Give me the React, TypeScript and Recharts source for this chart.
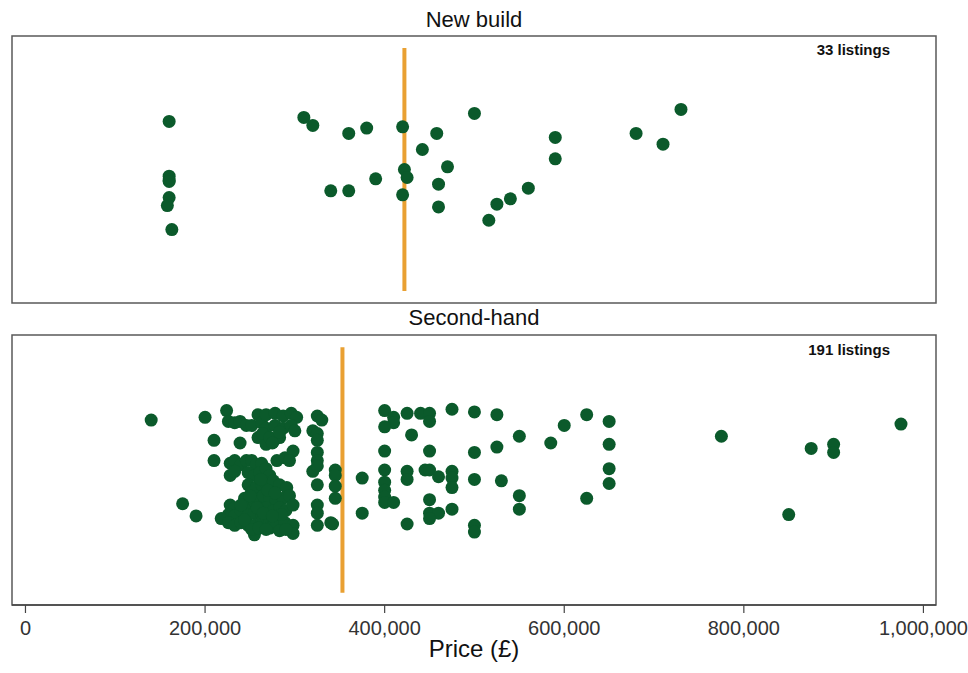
import React from "react";
import {
  ScatterChart,
  Scatter,
  XAxis,
  YAxis,
  ReferenceLine,
  ReferenceArea,
} from "recharts";

// prices in £ thousands, jitter is the vertical spread of the strip (-100..100)
const newBuildPriceK = [
  160, 160, 160, 160, 158, 163, 310, 320, 340, 360, 360, 380, 390, 420, 422,
  425, 420, 442, 458, 460, 460, 470, 500, 516, 525, 540, 560, 590, 590, 680,
  710, 730, 160,
];
const newBuildJitter = [
  36, -5, -8, -21, -27, -45, 39, 33, -16, 27, -16, 31, -7, 32, 0, -6, -19, 15,
  27, -11, -28, 2, 42, -38, -26, -22, -14, 24, 8, 27, 19, 45, -9,
];

const secondHandPriceK = [
  // left tail
  140, 200, 210, 210, 175, 190,
  // main cluster
  224, 226, 233, 239, 246, 252, 259, 263, 259, 239, 228, 233, 240, 246, 252,
  257, 263, 228, 233, 248, 255, 261, 248, 252, 257, 263, 244, 248, 255, 261,
  265, 228, 233, 226, 233, 240, 248, 255, 263, 218, 226, 233, 240, 248, 255,
  263, 255,
  268, 278, 287, 296, 302, 268, 278, 287, 296, 300, 268, 276, 283, 280, 289,
  298, 294, 268, 272, 269, 276, 283, 291, 265, 272, 279, 287, 294, 268, 276,
  283, 290, 298, 265, 272, 283, 272, 277, 289, 298, 283, 298,
  264, 272, 283, 275, 250, 258, 265, 270, 278, 285, 240, 244, 252, 260, 268,
  275, 290, 262,
  // column near the median
  325, 330, 320, 325, 325, 325, 325, 320, 325, 325, 325, 325, 325, 340, 345,
  345, 345, 345, 342,
  // right of the median
  375, 375, 400, 410, 410, 400, 425, 430, 440, 450, 450, 475, 500, 525, 400,
  450, 500, 525, 550, 585, 600, 625, 650, 650, 650, 650, 625, 400, 400, 400,
  400, 400, 410, 425, 425, 445, 450, 460, 475, 475, 475, 500, 530, 550, 550,
  450, 475, 450, 460, 450, 425, 500, 500,
  // high end
  775, 850, 875, 900, 900, 975,
];
const secondHandJitter = [
  37, 39, 22, 7, -25, -34,
  44, 36, 35, 36, 33, 33, 41, 35, 24, 20, 5, 7, 4, 7, 7,
  4, 5, -4, -1, -2, -4, -2, -11, -16, -13, -11, -21, -26, -23, -21,
  -26, -26, -28, -33, -34, -30, -33, -32, -33, -36, -39, -41, -39, -41, -41,
  -39, -48,
  41, 42, 40, 42, 39, 31, 33, 31, 33, 29, 19, 21, 24, 7, 9,
  14, 7, 1, -4, -11, -8, -11, -13, -19, -21, -23, -21, -19, -28, -30,
  -28, -30, -26, -36, -38, -37, -43, -41, -39, -41, -45, -47,
  27, 24, 28, 20, -19, -28, -32, -15, -17, -33, -26, -37, -44, -43, -44,
  -34, -44, -7,
  40, 37, 29, 27, 22, 13, 7, -1, 3, -11, -26, -32, -41, -39, 0,
  -4, -12, -21, -40,
  -6, -32, 44, 39, 35, 32, 42, 26, 42, 42, 36, 45, 43, 41, 14,
  14, 13, 17, 25, 20, 33, 41, 36, 19, 1, -10, -21, 0, -9, -15,
  -20, -24, -24, -1, -7, 0, 0, -5, -1, -6, -13, -7, -8, -19, -29,
  -22, -29, -32, -32, -36, -40, -41, -46,
  25, -33, 16, 19, 13, 34,
];

const priceTicks = [0, 200000, 400000, 600000, 800000, 1000000];
const newBuildMedian = 422000;
const secondHandMedian = 353000;

const X_DOMAIN = [-15000, 1014000];
const GREEN = "#0b5a2b";
const ORANGE = "#e9a032";
const FONT = "'Liberation Sans', Arial, sans-serif";

const toRows = (pricesK: number[], jitter: number[]) =>
  pricesK.map((p, i) => ({ price: p * 1000, jitter: jitter[i] }));

const dot = (props: any) => (
  <circle cx={props.cx} cy={props.cy} r={6.5} fill={GREEN} />
);

function Panel({
  rows,
  median,
  showAxis,
  height,
  margin,
}: {
  rows: { price: number; jitter: number }[];
  median: number;
  showAxis: boolean;
  height: number;
  margin: { top: number; right: number; bottom: number; left: number };
}) {
  return (
    <ScatterChart width={968} height={height} margin={margin}>
      <XAxis
        type="number"
        dataKey="price"
        domain={X_DOMAIN}
        ticks={priceTicks}
        hide={!showAxis}
        height={30}
        tickSize={8}
        tickMargin={8}
        allowDataOverflow
        axisLine={{ stroke: "#444", strokeWidth: 1.5 }}
        tickLine={{ stroke: "#444", strokeWidth: 1.2 }}
        tick={{ fill: "#333", fontSize: 20, fontFamily: FONT }}
        tickFormatter={(v: number) => v.toLocaleString("en-US")}
      />
      <YAxis type="number" dataKey="jitter" domain={[-100, 100]} hide />
      <ReferenceArea
        x1={X_DOMAIN[0]}
        x2={X_DOMAIN[1]}
        y1={-100}
        y2={100}
        fill="none"
        fillOpacity={0}
        stroke="#5a5a5a"
        strokeWidth={1.5}
      />
      <Scatter data={rows} shape={dot} isAnimationActive={false} />
      <ReferenceLine
        segment={[
          { x: median, y: 91 },
          { x: median, y: -91 },
        ]}
        stroke={ORANGE}
        strokeWidth={4}
      />
    </ScatterChart>
  );
}

const titleStyle: React.CSSProperties = {
  position: "absolute",
  left: 12,
  width: 924,
  textAlign: "center",
  fontFamily: FONT,
  fontSize: 22,
  lineHeight: "22px",
  color: "#111",
};

const countStyle: React.CSSProperties = {
  position: "absolute",
  right: 78,
  fontFamily: FONT,
  fontSize: 15,
  fontWeight: "bold",
  lineHeight: "15px",
  color: "#111",
};

export default function App() {
  const newBuild = toRows(newBuildPriceK, newBuildJitter);
  const secondHand = toRows(secondHandPriceK, secondHandJitter);

  return (
    <div
      style={{
        position: "absolute",
        left: 0,
        top: 0,
        width: 968,
        height: 673,
        overflow: "hidden",
        background: "#fff",
      }}
    >
      <div style={{ position: "absolute", left: 0, top: 0 }}>
        <Panel
          rows={newBuild}
          median={newBuildMedian}
          showAxis={false}
          height={310}
          margin={{ top: 36, right: 32, bottom: 7, left: 12 }}
        />
      </div>
      <div style={{ position: "absolute", left: 0, top: 310 }}>
        <Panel
          rows={secondHand}
          median={secondHandMedian}
          showAxis
          height={340}
          margin={{ top: 25, right: 32, bottom: 15, left: 12 }}
        />
      </div>

      <div style={{ ...titleStyle, top: 9 }}>New build</div>
      <div style={{ ...titleStyle, top: 307 }}>Second-hand</div>
      <div style={{ ...countStyle, top: 42 }}>{newBuild.length} listings</div>
      <div style={{ ...countStyle, top: 342 }}>{secondHand.length} listings</div>
      <div style={{ ...titleStyle, top: 637, fontSize: 24, lineHeight: "24px" }}>
        Price (£)
      </div>
    </div>
  );
}
